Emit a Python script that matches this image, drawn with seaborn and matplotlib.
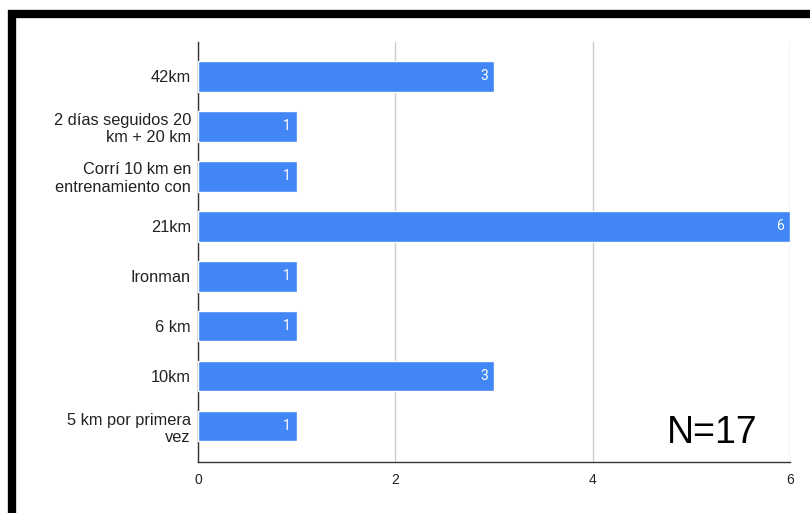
import pandas as pd
import matplotlib.pyplot as plt
import seaborn as sns
from matplotlib.patches import Rectangle

# Data
categories = ["42km", "2 días seguidos 20\nkm + 20 km", "Corrí 10 km en\nentrenamiento con",
              "21km", "Ironman", "6 km", "10km", "5 km por primera\nvez"]
counts = [3, 1, 1, 6, 1, 1, 3, 1]
x_ticks = [0, 2, 4, 6]
bar_color = "#4285f4"

df = pd.DataFrame({"categoria": categories, "n": counts})

sns.set_theme(style="white")
plt.rcParams['font.family'] = ['Liberation Sans', 'DejaVu Sans']

fig = plt.figure(figsize=(8.1, 5.13), dpi=100)
ax = fig.add_axes([198 / 810, 1 - 462 / 513, 592 / 810, 420 / 513])

sns.barplot(data=df, y="categoria", x="n", color=bar_color, saturation=1,
            width=0.62, orient="h", ax=ax, zorder=3)

# value labels inside the bars
for i, v in enumerate(counts):
    ax.text(v - 0.06, i, str(v), ha="right", va="center", color="white", fontsize=10,
            zorder=4, family=["Roboto", "DejaVu Sans"])

ax.set_xlim(0, 6)
ax.set_ylim(7.72, -0.68)
ax.set_xticks(x_ticks)
ax.set_xticklabels([str(t) for t in x_ticks], fontsize=10, color="#222222")
ax.tick_params(axis="y", labelsize=11.8, labelcolor="#222222", length=0, pad=5)
ax.tick_params(axis="x", length=0, pad=8)
ax.set_xlabel("")
ax.set_ylabel("")
ax.grid(axis="x", color="#cccccc", linewidth=1, zorder=0)
for t in ax.get_yticklabels():
    t.set_multialignment("right")
    t.set_linespacing(1.2)

for s in ["top", "right"]:
    ax.spines[s].set_visible(False)
ax.spines["left"].set_color("#333333")
ax.spines["bottom"].set_color("#333333")
ax.spines["left"].set_linewidth(1)
ax.spines["bottom"].set_linewidth(1)

ax.text(5.21, 7.14, "N=17", ha="center", va="center", fontsize=27, color="black")

# black frame around the screenshot
fig.patches.append(Rectangle((12 / 810, -0.1), 1.2, 1 - 14 / 513 + 0.1,
                             transform=fig.transFigure, fill=False,
                             edgecolor="black", linewidth=6, zorder=10))

fig.savefig("out.png", dpi=100)
